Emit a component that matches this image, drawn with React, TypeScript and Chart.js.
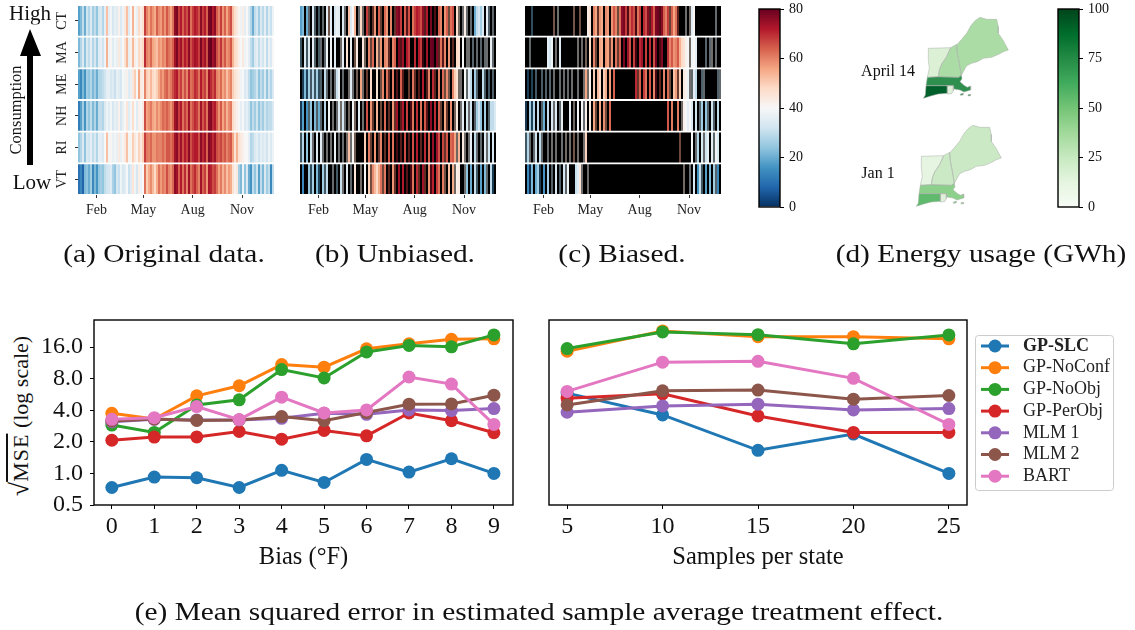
import React, { useEffect, useRef } from "react";
import { Chart, registerables } from "chart.js";
Chart.register(...registerables);

const SERIF = "'Liberation Serif', serif";

// ---------- heatmap data ----------
const states = ["CT", "MA", "ME", "NH", "RI", "VT"];
const monthLabels = ["Feb", "May", "Aug", "Nov"];
const monthTicks = [9.2, 32.7, 57.3, 82];

const tempCT = [18,22,30,20, 32,28,34,26,30,24,33, 34,28,36, 52, 36,39,33,37,35,42,34,38,44,52,35,40, 54,41,37,48,43,46, 68,60,56,62,58,55,64,59,57,63,58,65,60,56,62, 76,78,68,72,64,70,66,74,62,68,72,70,66,76,68,72,64, 78,79,72,76, 64,60,68,58,64,56,62,66, 52,47, 44,41,38,43,36,40,34,28,20, 30,33,26,34,29,36,28,35,31,38];
const tempMA = [22,28,34,24, 34,30,36,28,33,26,35, 36,32,38, 54, 38,41,35,39,37,44,36,40,46,53,37,42, 53,43,39,48,45,48, 70,60,58,63,56,54,52,58,56,60,58,65,62,60,64, 74,78,70,74,66,72,68,76,66,70,74,72,68,78,70,74,66, 79,80,74,77, 66,62,69,60,65,58,60,65, 54,48, 46,42,40,44,38,40,36,30,26, 34,36,30,36,32,38,30,37,34,40];
const tempME = [18,14,22,16, 26,24,28,22,26,20,28, 28,30,32, 36, 37,33,35,31,37,35,33,40,38,42,35,37, 45,50,40,56,44,42, 60,50,48,53,48,46,50,55,60,57,62,64,59,61,66, 70,72,64,68,60,66,60,70,62,64,70,68,62,72,65,68,60, 74,70,66,70, 60,58,63,56,59,52,57,60, 50,46, 44,42,38,40,34,36,30,24,26, 28,32,24,30,26,34,24,32,28,34];
const tempNH = [12,18,26,16, 28,24,30,22,28,20,30, 30,28,34, 38, 35,39,33,37,35,42,33,37,40,45,35,39, 47,40,35,42,40,44, 66,56,58,61,56,54,59,56,59,63,61,64,61,58,63, 74,76,68,72,62,68,63,74,62,66,70,68,62,74,65,70,62, 76,77,70,72, 64,58,65,56,61,54,59,61, 48,44, 42,40,36,40,34,36,32,24,30, 26,32,24,30,26,32,28,30,30,34];
const tempRI = [24,28,34,24, 34,32,36,30,34,28,36, 36,34,40, 52, 39,41,37,39,37,44,37,41,44,52,39,41, 50,44,41,49,44,50, 68,61,60,63,58,58,61,60,60,63,60,65,65,62,65, 74,76,68,74,66,72,68,76,66,70,72,72,66,76,70,74,64, 77,75,70,74, 66,64,67,62,65,60,63,65, 56,46, 54,46,44,42,40,40,36,28,30, 34,36,32,36,34,36,32,38,34,38];
const tempVT = [10,14,8,22, 24,20,26,14,22,16,24, 26,24,30, 32, 33,35,27,24,33,31,38,33,35,40,31,35, 45,38,33,43,38,40, 62,50,55,59,53,48,55,62,57,61,59,66,60,58,63, 76,74,64,72,62,70,60,74,62,66,70,64,60,74,64,68,58, 73,71,66,68, 62,56,61,54,59,52,57,55, 46,42, 44,26,22,38,24,34,20,16,30, 24,32,18,30,22,34,26,30,14,30];
const tempRows = [tempCT, tempMA, tempME, tempNH, tempRI, tempVT];

// '#': missing (black), '+': partly missing (dark), '.': observed
const maskUnbiased = [
  "..#.+#.+#+ #+#.+.#... #.+#....#+ .+#.+#+.#. +#..#.#+.. .#.+.#.... ..+.#.#+#. .#..+..#.+ #+.+#+#... ..#.+#+#",
  "+#.+.#.+#+ +#+.#.#.## +.#.#.#+.# #.+#.+.#.+ .#..+#..#. +.#..##.#. .+#.#..#.+ .+.#.#+#.. #.#++#+#+# +#++#.+#",
  "#+.+.+.+.+ +#.+#+#+.. #+##+.+#+# .+#+#.##.# +.#.+#.#+# .+##+#.+#+ #.#+.#.+#. #.+.+#...+ +#.+..#.+# #.+#+#+#",
  "+.#.+.#.+. +#.#.#+#+. +.+#+#.+#. #+#.#.+#.# +#.#+#.+.# +.#.#+.#.# .#.+#.#.#. +#.+#.#+.# +.#.+.#+.. .#.#+...",
  "+.#.#.+#.# .+#+#+#.#+ #+#+.+.+## ##.#.+#.#+ .#+#.#.#+# +#.#+#.#.# +#.#.#.#.. #.+.#...+. #.+#+.#.+# +#.+.#.#",
  "#.##.+.#.+ #.+.##+#+# .+#.#+#.## +#.#.+.... .+.#+#.+#. #.#+#+.#.+ #.+#.+.#.. #.+#.#.+.. ##+.#.#.+# .#.+#.+#",
];
const maskBiased = [
  "###+###### ####+#+### ####+##+## #..#..+..# ..#...+... .+...+..#. ..+....+.. ..+...+### +#+..##### #####+##",
  "##+####### #...#+#.## ######+#+# +#.#.+#..# ..+.#.+.#. #..#.+#..# .#.#..#+.# #......... ..+...#### +#++#+##",
  "#+#+#+##+# +#+#+##+#+ #+#+##+##+ .+.#.#..#. .#.#.##### #####.+.#. .#.#.+#+#. #.+#..+.#. ..++..##++ ######++",
  "+#.+.#.#+. #.#.+.#+.# ##.#+#.#.+ .#.#.+#.#. +#.####### ########## ########## #.#.##.#+. ....#.#+.# .+#.+#.#",
  "+.+#+.#.+# #+#+#+##+# +#+#+#+##+ .######### ########## ########## ########## #######+## ###.#+.#.+ ..#.+..#",
  "#.+.#..+#. #.#+#.#+#. +.###...+# #+######## ########## ########## ########## #########+ ##+#.#..+# .#.#.+.#",
];
const noMask = ["", "", "", "", "", ""];

const rdbuStops = ["#053061","#2166ac","#4393c3","#92c5de","#d1e5f0","#f7f7f7","#fddbc7","#f4a582","#d6604d","#b2182b","#67001f"];
const greenStops = ["#f7fcf5","#e5f5e0","#c7e9c0","#a1d99b","#74c476","#41ab5d","#238b45","#006d2c","#00441b"];
const tempTicks = [0, 20, 40, 60, 80];
const usageTicks = [0, 25, 50, 75, 100];

// ---------- map data (outline coordinates in map units) ----------
const outlineME = [[350,135],[365,118],[380,100],[392,78],[405,62],[420,52],[440,58],[470,58],[475,80],[475,100],[490,122],[497,135],[505,150],[490,155],[478,162],[455,172],[430,175],[412,185],[395,190],[380,197],[370,215],[364,226],[358,190],[352,160]];
const outlineNH = [[332,143],[350,133],[352,160],[358,190],[364,226],[355,232],[295,230],[298,210],[305,192],[320,170]];
const outlineVT = [[265,145],[332,143],[320,170],[305,192],[298,210],[295,230],[262,232],[268,205],[265,180]];
const outlineMA = [[262,232],[295,230],[355,232],[364,226],[366,236],[360,245],[372,256],[382,262],[392,258],[392,270],[372,276],[360,270],[342,267],[340,257],[322,257],[258,257]];
const outlineCT = [[258,257],[322,257],[322,280],[295,282],[275,287],[250,295],[256,285]];
const outlineRI = [[322,257],[340,257],[340,272],[335,281],[322,282]];
const outlineVineyard = [[361,282],[370,280],[369,285],[362,286]];
const outlineNantucket = [[384,284],[392,283],[391,287],[385,288]];
const aprilColors = ["#acdca6", "#acdca6", "#dcf0d6", "#2f8f4e", "#00602b", "#dff1d9", "#2f8f4e", "#2f8f4e"];
const januaryColors = ["#cbe9c5", "#cbe9c5", "#e6f5e1", "#8cd08b", "#5fba6d", "#dff1da", "#8cd08b", "#8cd08b"];
const mapStates = [outlineME, outlineNH, outlineVT, outlineMA, outlineCT, outlineRI, outlineVineyard, outlineNantucket];

// ---------- line chart data ----------
const methods = ["GP-SLC", "GP-NoConf", "GP-NoObj", "GP-PerObj", "MLM 1", "MLM 2", "BART"];
const methodColors = ["#1f77b4", "#ff7f0e", "#2ca02c", "#d62728", "#9467bd", "#8c564b", "#e377c2"];
const biasValues = [0, 1, 2, 3, 4, 5, 6, 7, 8, 9];
const sampleValues = [5, 10, 15, 20, 25];
const yTicks = [0.5, 1, 2, 4, 8, 16];

const biasSLC = [0.734, 0.922, 0.909, 0.734, 1.07, 0.82, 1.36, 1.03, 1.38, 1.0];
const biasNoConf = [3.74, 3.3, 5.49, 6.85, 10.9, 10.3, 15.4, 17.2, 19.0, 19.2];
const biasNoObj = [2.89, 2.46, 4.5, 5.03, 9.76, 8.12, 14.4, 16.6, 16.1, 20.9];
const biasPerObj = [2.07, 2.22, 2.23, 2.51, 2.12, 2.57, 2.28, 3.77, 3.18, 2.44];
const biasMLM1 = [3.11, 3.28, 3.23, 3.23, 3.35, 3.74, 3.66, 4.03, 3.97, 4.15];
const biasMLM2 = [3.16, 3.3, 3.2, 3.23, 3.48, 3.18, 3.8, 4.57, 4.6, 5.57];
const biasBART = [3.28, 3.4, 4.34, 3.26, 5.33, 3.77, 4.03, 8.3, 7.11, 2.93];
const biasSeries = [biasSLC, biasNoConf, biasNoObj, biasPerObj, biasMLM1, biasMLM2, biasBART];

const sampleSLC = [5.83, 3.61, 1.66, 2.37, 1.0];
const sampleNoConf = [14.6, 22.8, 20.1, 20.1, 19.2];
const sampleNoObj = [15.5, 22.3, 21.0, 17.2, 20.9];
const samplePerObj = [5.21, 5.74, 3.53, 2.46, 2.46];
const sampleMLM1 = [3.83, 4.4, 4.57, 4.03, 4.15];
const sampleMLM2 = [4.5, 6.13, 6.23, 5.1, 5.53];
const sampleBART = [6.05, 11.5, 11.7, 8.06, 2.93];
const sampleSeries = [sampleSLC, sampleNoConf, sampleNoObj, samplePerObj, sampleMLM1, sampleMLM2, sampleBART];

// ---------- helpers ----------
function hexToRgb(h: string) {
  return [parseInt(h.slice(1, 3), 16), parseInt(h.slice(3, 5), 16), parseInt(h.slice(5, 7), 16)];
}
function rdbu(v: number, shade: number) {
  const t = (Math.max(0, Math.min(80, v)) / 80) * (rdbuStops.length - 1);
  const i = Math.min(Math.floor(t), rdbuStops.length - 2);
  const a = hexToRgb(rdbuStops[i]);
  const b = hexToRgb(rdbuStops[i + 1]);
  const f = 1 - shade;
  const c = a.map((q, k) => Math.round((q + (b[k] - q) * (t - i)) * f));
  return `rgb(${c[0]},${c[1]},${c[2]})`;
}

const framePlugin = {
  id: "frame",
  afterDatasetsDraw(chart: any) {
    const { left, right, top, bottom } = chart.chartArea;
    const ctx = chart.ctx;
    ctx.save();
    ctx.strokeStyle = "#000";
    ctx.lineWidth = 1.4;
    ctx.strokeRect(left, top, right - left, bottom - top);
    ctx.restore();
  },
};

const rowLabelPlugin = {
  id: "rowLabels",
  afterDraw(chart: any) {
    const ctx = chart.ctx;
    const y = chart.scales.y;
    ctx.save();
    ctx.fillStyle = "#222";
    ctx.font = `14px ${SERIF}`;
    ctx.textAlign = "center";
    ctx.textBaseline = "middle";
    states.forEach((s, i) => {
      ctx.save();
      ctx.translate(chart.chartArea.left - 16, y.getPixelForValue(i + 0.5));
      ctx.rotate(-Math.PI / 2);
      ctx.fillText(s, 0, 0);
      ctx.restore();
    });
    ctx.restore();
  },
};

const legendPlugin = {
  id: "lineLegend",
  afterDraw(chart: any) {
    const ctx = chart.ctx;
    const x0 = chart.chartArea.right + 8;
    const y0 = chart.chartArea.top + 15;
    ctx.save();
    ctx.strokeStyle = "#ccc";
    ctx.fillStyle = "#fff";
    ctx.lineWidth = 1;
    ctx.beginPath();
    ctx.roundRect(x0 + 0.5, y0 + 0.5, 138, 155, 3);
    ctx.fill();
    ctx.stroke();
    methods.forEach((m, i) => {
      const y = y0 + 11 + i * 21.7;
      ctx.strokeStyle = methodColors[i];
      ctx.fillStyle = methodColors[i];
      ctx.lineWidth = 3;
      ctx.beginPath();
      ctx.moveTo(x0 + 6, y);
      ctx.lineTo(x0 + 34, y);
      ctx.stroke();
      ctx.beginPath();
      ctx.arc(x0 + 20, y, 6.5, 0, Math.PI * 2);
      ctx.fill();
      ctx.fillStyle = "#222";
      ctx.font = `${i === 0 ? "bold " : ""}18px ${SERIF}`;
      ctx.textAlign = "left";
      ctx.textBaseline = "middle";
      ctx.fillText(m, x0 + 48, y);
    });
    ctx.restore();
  },
};

// fills each state's outline from the points the line controller placed on the scales
const mapFillPlugin = {
  id: "mapFill",
  beforeDatasetsDraw(chart: any) {
    const ctx = chart.ctx;
    chart.data.datasets.forEach((ds: any, i: number) => {
      const pts = chart.getDatasetMeta(i).data;
      ctx.save();
      ctx.fillStyle = ds.backgroundColor;
      ctx.beginPath();
      pts.forEach((p: any, k: number) => (k ? ctx.lineTo(p.x, p.y) : ctx.moveTo(p.x, p.y)));
      ctx.closePath();
      ctx.fill();
      ctx.restore();
    });
  },
};

function ChartBox({ left, top, width, height, config }: any) {
  const ref = useRef<HTMLCanvasElement>(null);
  useEffect(() => {
    const chart = new Chart(ref.current as any, config);
    return () => chart.destroy();
  }, []);
  return (
    <div style={{ position: "absolute", left, top, width, height }}>
      <canvas ref={ref} width={width} height={height} style={{ display: "block", width, height }} />
    </div>
  );
}

function heatConfig(masks: string[], withRows: boolean) {
  const cleaned = masks.map((m) => m.replace(/ /g, ""));
  return {
    type: "bar",
    data: {
      datasets: states.map((s, r) => ({
        label: s,
        data: tempRows[r].map((v, c) => ({
          x: c + 0.5,
          y: [r + 0.03, r + 0.97],
          v,
          m: cleaned[r][c] || ".",
        })),
        backgroundColor: (ctx: any) => {
          const d = ctx.raw;
          if (!d) return "#000";
          return d.m === "#" ? "#000" : rdbu(d.v, d.m === "+" ? 0.55 : 0);
        },
        barThickness: 2,
        grouped: false,
        inflateAmount: 0,
        borderWidth: 0,
      })),
    },
    plugins: withRows ? [rowLabelPlugin] : [],
    options: {
      animation: false,
      responsive: false,
      layout: { padding: { top: 5, right: 10, left: 0, bottom: 0 } },
      plugins: { legend: { display: false }, tooltip: { enabled: false } },
      scales: {
        x: {
          type: "linear",
          min: 0,
          max: 98,
          offset: false,
          afterBuildTicks: (a: any) => { a.ticks = monthTicks.map((value) => ({ value })); },
          afterFit: (a: any) => { a.height = 30; },
          grid: { offset: false, drawOnChartArea: false, tickLength: 3, tickColor: "#333" },
          border: { display: false },
          ticks: {
            autoSkip: false,
            maxRotation: 0,
            color: "#222",
            padding: 4,
            font: { family: SERIF, size: 14 },
            callback: (v: number) => monthLabels[monthTicks.indexOf(v)],
          },
        },
        y: {
          type: "linear",
          display: withRows,
          min: 0,
          max: 6,
          reverse: true,
          afterBuildTicks: (a: any) => { a.ticks = states.map((_, i) => ({ value: i + 0.5 })); },
          afterFit: (a: any) => { a.width = withRows ? 26 : 0; a.paddingTop = 0; a.paddingBottom = 0; },
          grid: { drawOnChartArea: false, tickLength: 3, tickColor: "#333" },
          border: { display: false },
          ticks: { autoSkip: false, callback: () => "", padding: 0, font: { size: 1 } },
        },
      },
    },
  };
}

function colorbarConfig(stops: string[], ticks: number[]) {
  const max = ticks[ticks.length - 1];
  return {
    type: "bar",
    data: {
      labels: ["scale"],
      datasets: [
        {
          data: [[0, max]],
          inflateAmount: 0,
          barPercentage: 1,
          categoryPercentage: 1,
          backgroundColor: (ctx: any) => {
            const area = ctx.chart.chartArea;
            if (!area) return stops[0];
            const g = ctx.chart.ctx.createLinearGradient(0, area.bottom, 0, area.top);
            stops.forEach((s, i) => g.addColorStop(i / (stops.length - 1), s));
            return g;
          },
        },
      ],
    },
    plugins: [framePlugin],
    options: {
      animation: false,
      responsive: false,
      layout: { padding: { top: 9, bottom: 9, left: 1, right: 0 } },
      plugins: { legend: { display: false }, tooltip: { enabled: false } },
      scales: {
        x: { display: false },
        y: {
          position: "right",
          min: 0,
          max,
          afterBuildTicks: (a: any) => { a.ticks = ticks.map((value) => ({ value })); },
          afterFit: (a: any) => { a.width = 30; a.paddingTop = 0; a.paddingBottom = 0; },
          grid: { drawOnChartArea: false, tickLength: 4, tickColor: "#000" },
          border: { display: false },
          ticks: { autoSkip: false, color: "#111", padding: 5, font: { family: SERIF, size: 14 } },
        },
      },
    },
  };
}

function mapConfig(colors: string[]) {
  return {
    type: "line",
    data: {
      datasets: mapStates.map((pts, i) => ({
        data: pts.concat([pts[0]]),
        backgroundColor: colors[i],
        borderColor: "#a9afa9",
        borderWidth: 0.5,
        fill: false,
        pointRadius: 0,
        tension: 0,
        clip: false,
      })),
    },
    plugins: [mapFillPlugin],
    options: {
      animation: false,
      responsive: false,
      layout: { padding: 0 },
      plugins: { legend: { display: false }, tooltip: { enabled: false } },
      scales: {
        x: { type: "linear", display: false, min: 240, max: 516 },
        y: { type: "linear", display: false, min: 45, max: 300, reverse: true },
      },
    },
  };
}

function lineConfig(xs: number[], series: number[][], xMin: number, xMax: number, title: string, showY: boolean, right: number) {
  return {
    type: "line",
    data: {
      datasets: methods.map((m, i) => ({
        label: m,
        data: xs.map((x, k) => ({ x, y: series[i][k] })),
        borderColor: methodColors[i],
        backgroundColor: methodColors[i],
        borderWidth: 3,
        pointRadius: 6.5,
        pointBorderWidth: 0,
        tension: 0,
        order: methods.length - i,
        clip: false,
      })),
    },
    plugins: showY ? [framePlugin] : [framePlugin, legendPlugin],
    options: {
      animation: false,
      responsive: false,
      layout: { padding: { top: 15, right, left: showY ? 0 : 14, bottom: 0 } },
      plugins: { legend: { display: false }, tooltip: { enabled: false } },
      scales: {
        x: {
          type: "linear",
          min: xMin,
          max: xMax,
          afterBuildTicks: (a: any) => { a.ticks = xs.map((value) => ({ value })); },
          afterFit: (a: any) => { a.height = 70; },
          grid: { drawOnChartArea: false, tickLength: 4, tickColor: "#000" },
          border: { display: false },
          ticks: { autoSkip: false, maxRotation: 0, color: "#111", padding: 3, font: { family: SERIF, size: 24 } },
          title: { display: true, text: title, color: "#111", font: { family: SERIF, size: 24.5 }, padding: { top: 0, bottom: 3 } },
        },
        y: {
          type: "logarithmic",
          display: showY,
          min: 0.5,
          max: 29,
          afterBuildTicks: (a: any) => { a.ticks = yTicks.map((value) => ({ value })); },
          afterFit: (a: any) => { a.width = showY ? 60 : 0; a.paddingTop = 0; a.paddingBottom = 0; },
          grid: { drawOnChartArea: false, tickLength: 4, tickColor: "#000" },
          border: { display: false },
          ticks: {
            autoSkip: false,
            color: "#111",
            padding: 7,
            font: { family: SERIF, size: 24 },
            callback: (v: number) => v.toFixed(1),
          },
        },
      },
    },
  };
}

function Label({ text, cx, cy, size, rotate, stretch }: any) {
  return (
    <div
      style={{
        position: "absolute",
        left: cx,
        top: cy,
        transform: `translate(-50%,-50%)${rotate ? " rotate(-90deg)" : ""}${stretch ? ` scaleX(${stretch})` : ""}`,
        willChange: rotate ? "auto" : "transform",
        fontFamily: SERIF,
        fontSize: size,
        color: "#111",
        whiteSpace: "nowrap",
        lineHeight: 1,
      }}
    >
      {text}
    </div>
  );
}

const captions: [string, number, number][] = [
  ["(a) Original data.", 164, 254],
  ["(b) Unbiased.", 395, 254],
  ["(c) Biased.", 622, 254],
  ["(d) Energy usage (GWh)", 981, 254],
  ["(e) Mean squared error in estimated sample average treatment effect.", 539, 612],
];

export default function App() {
  return (
    <div style={{ position: "absolute", left: 0, top: 0, width: 1135, height: 630, overflow: "hidden", background: "#fff" }}>
      <ChartBox left={52} top={0} width={232} height={225} config={heatConfig(noMask, true)} />
      <ChartBox left={300} top={0} width={206} height={225} config={heatConfig(maskUnbiased, false)} />
      <ChartBox left={525} top={0} width={206} height={225} config={heatConfig(maskBiased, false)} />
      <ChartBox left={758} top={0} width={52} height={216} config={colorbarConfig(rdbuStops, tempTicks)} />
      <ChartBox left={1057} top={0} width={52} height={216} config={colorbarConfig(greenStops, usageTicks)} />
      <ChartBox left={920} top={15} width={92} height={85} config={mapConfig(aprilColors)} />
      <ChartBox left={913} top={123} width={92} height={85} config={mapConfig(januaryColors)} />
      <ChartBox left={34} top={305} width={493} height={270} config={lineConfig(biasValues, biasSeries, -0.42, 9.45, "Bias (°F)", true, 14)} />
      <ChartBox left={535} top={305} width={600} height={270} config={lineConfig(sampleValues, sampleSeries, 4.05, 25.95, "Samples per state", false, 168)} />

      <svg width={60} height={200} style={{ position: "absolute", left: 0, top: 0 }}>
        <polygon points="30,29 41,56 33,56 33,165 27,165 27,56 20,56" fill="#000" />
      </svg>
      <Label text="High" cx={30} cy={13} size={21} />
      <Label text="Low" cx={32} cy={182} size={21} />
      <Label text="Consumption" cx={16} cy={110} size={16.5} rotate />
      <Label text="April 14" cx={888} cy={71} size={16} />
      <Label text="Jan 1" cx={878} cy={173} size={16} />
      <Label
        text={<span><span style={{ fontSize: 26 }}>√</span><span style={{ textDecoration: "overline", letterSpacing: 1 }}>MSE</span> (log scale)</span>}
        cx={20}
        cy={416}
        size={22}
        rotate
      />
      {captions.map(([t, cx, cy]) => (
        <Label key={t} text={t} cx={cx} cy={cy} size={26} stretch={1.13} />
      ))}
    </div>
  );
}
